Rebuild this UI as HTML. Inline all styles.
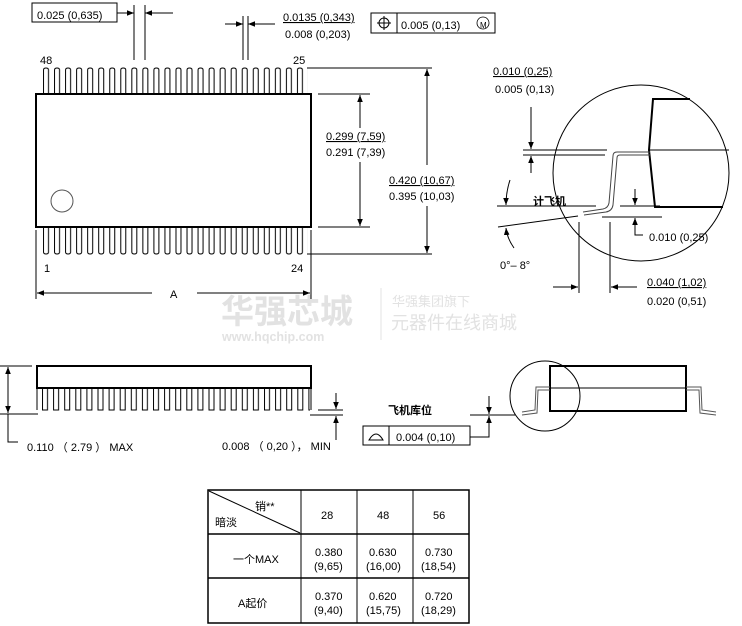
<!DOCTYPE html>
<html><head><meta charset="utf-8"><style>
html,body{margin:0;padding:0;background:#fff}
svg{display:block}
text{font-family:"Liberation Sans","Noto Sans CJK SC",sans-serif;font-size:11px;fill:#000}
</style></head><body>
<svg width="742" height="626" viewBox="0 0 742 626" xmlns="http://www.w3.org/2000/svg">
<defs>
<marker id="a" viewBox="0 0 10 10" refX="10" refY="5" markerWidth="7" markerHeight="7" orient="auto-start-reverse" markerUnits="userSpaceOnUse"><path d="M0,1 L10,5 L0,9 z" fill="#000"/></marker>
<pattern id="pt" patternUnits="userSpaceOnUse" x="43" y="0" width="11.04" height="626">
<path d="M0.5,94 V70 Q0.5,68 3,68 Q5.5,68 5.5,70 V94" fill="none" stroke="#000" stroke-width="1"/>
</pattern>
<pattern id="pb" patternUnits="userSpaceOnUse" x="43" y="0" width="11.04" height="626">
<path d="M0.5,227 V252 Q0.5,254 3,254 Q5.5,254 5.5,252 V227" fill="none" stroke="#000" stroke-width="1"/>
</pattern>
<pattern id="ps" patternUnits="userSpaceOnUse" x="42" y="0" width="11.1" height="626">
<path d="M0.5,388 V410 H5.5 V388" fill="none" stroke="#000" stroke-width="1"/>
</pattern>
</defs>
<g stroke="#000" fill="none" stroke-width="1">
<line x1="381" y1="288" x2="381" y2="340" stroke="#e3e3e3"/>
</g>
<text x="221" y="323" style="font-size:33px;font-weight:bold;fill:#e2e2e2">华强芯城</text>
<text x="222" y="341" style="font-size:12.5px;font-weight:bold;fill:#e2e2e2">www.hqchip.com</text>
<text x="392" y="306" style="font-size:13px;fill:#e2e2e2">华强集团旗下</text>
<text x="391" y="329" style="font-size:18px;fill:#e2e2e2">元器件在线商城</text>

<!-- top view -->
<rect x="40" y="66" width="268" height="30" fill="url(#pt)"/>
<rect x="40" y="225" width="268" height="32" fill="url(#pb)"/>
<g stroke="#000" fill="none">
<rect x="36" y="94" width="275" height="133" stroke-width="2" fill="#fff"/>
<circle cx="62" cy="201" r="11" stroke="#555"/>
<line x1="134" y1="5" x2="134" y2="60"/><line x1="145" y1="5" x2="145" y2="60"/>
<line x1="117" y1="13" x2="134" y2="13" marker-end="url(#a)"/>
<line x1="173" y1="13" x2="145" y2="13" marker-end="url(#a)"/>
<rect x="32" y="3" width="85" height="19"/>
<line x1="243" y1="16" x2="243" y2="60"/><line x1="248" y1="16" x2="248" y2="60"/>
<line x1="225" y1="24" x2="243" y2="24" marker-end="url(#a)"/>
<line x1="275" y1="24" x2="248" y2="24" marker-end="url(#a)"/>
<rect x="371" y="13" width="124" height="20"/><line x1="397" y1="13" x2="397" y2="33"/>
<circle cx="384" cy="23" r="5"/><line x1="384" y1="16" x2="384" y2="30"/><line x1="377" y1="23" x2="391" y2="23"/>
<circle cx="483" cy="23" r="6" stroke-width="0.8"/>
<line x1="318" y1="94" x2="370" y2="94"/><line x1="318" y1="227" x2="370" y2="227"/>
<line x1="360" y1="128" x2="360" y2="95" marker-end="url(#a)"/>
<line x1="360" y1="162" x2="360" y2="226" marker-end="url(#a)"/>
<line x1="307" y1="68" x2="432" y2="68"/><line x1="307" y1="254" x2="432" y2="254"/>
<line x1="427" y1="165" x2="427" y2="69" marker-end="url(#a)"/>
<line x1="427" y1="206" x2="427" y2="253" marker-end="url(#a)"/>
<line x1="36" y1="230" x2="36" y2="299"/><line x1="311" y1="230" x2="311" y2="299"/>
<line x1="152" y1="293" x2="37" y2="293" marker-end="url(#a)"/>
<line x1="197" y1="293" x2="310" y2="293" marker-end="url(#a)"/>
</g>
<text x="37" y="19" style="font-size:11px">0.025 (0,635)</text>
<text x="283" y="21" text-decoration="underline">0.0135 (0,343)</text>
<text x="285" y="38">0.008 (0,203)</text>
<text x="401" y="29">0.005 (0,13)</text>
<text x="480" y="28" style="font-size:8px">M</text>
<text x="40" y="64">48</text><text x="293" y="64">25</text>
<text x="44" y="272">1</text><text x="291" y="272">24</text>
<text x="326" y="140" text-decoration="underline">0.299 (7,59)</text>
<text x="326" y="156">0.291 (7,39)</text>
<text x="389" y="184" text-decoration="underline">0.420 (10,67)</text>
<text x="389" y="200">0.395 (10,03)</text>
<text x="170" y="298">A</text>

<!-- detail -->
<g stroke="#000" fill="none">
<circle cx="641" cy="173" r="88"/>
<path d="M690,99 H653 L649,150 L655,207 H723" stroke-width="2"/>
<line x1="649" y1="150" x2="729" y2="150"/>
<path d="M650,152 H617 Q613,152 613,156 L609,203 Q608,208 603,209 L583,212 M650,155 H620 Q617,155 617,158 L613,205 Q612,211 606,212 L584,215" stroke="#444"/>
<line x1="523" y1="150" x2="607" y2="150"/><line x1="523" y1="155" x2="605" y2="155"/>
<line x1="531" y1="107" x2="531" y2="149" marker-end="url(#a)"/>
<line x1="531" y1="173" x2="531" y2="156" marker-end="url(#a)"/>
<line x1="497" y1="206" x2="596" y2="206"/>
<line x1="620" y1="206" x2="660" y2="206"/><line x1="602" y1="217" x2="662" y2="217"/>
<line x1="498" y1="227" x2="578" y2="216"/>
<path d="M510,180 Q506,192 506,205" marker-end="url(#a)"/>
<path d="M514,248 Q507,238 506,228" marker-end="url(#a)"/>
<line x1="635" y1="189" x2="635" y2="205" marker-end="url(#a)"/>
<path d="M643,235 H635 V218" marker-end="url(#a)"/>
<line x1="579" y1="222" x2="579" y2="293"/><line x1="610" y1="222" x2="610" y2="293"/>
<line x1="553" y1="287" x2="578" y2="287" marker-end="url(#a)"/>
<line x1="637" y1="287" x2="611" y2="287" marker-end="url(#a)"/>
</g>
<text x="493" y="75" text-decoration="underline">0.010 (0,25)</text>
<text x="495" y="93">0.005 (0,13)</text>
<text x="533" y="205" style="font-weight:bold;font-size:11px">计飞机</text>
<text x="649" y="241">0.010 (0,25)</text>
<text x="500" y="269">0°– 8°</text>
<text x="647" y="286" text-decoration="underline">0.040 (1,02)</text>
<text x="647" y="305">0.020 (0,51)</text>

<!-- side view -->
<rect x="38" y="386" width="272" height="26" fill="url(#ps)"/>
<g stroke="#000" fill="none">
<path d="M37,388 V366 H311 V388 Z" stroke-width="2" fill="#fff"/>
<line x1="37" y1="388" x2="37" y2="410"/><line x1="311" y1="388" x2="311" y2="410"/>
<line x1="0" y1="366" x2="32" y2="366"/><line x1="0" y1="414" x2="38" y2="414"/>
<line x1="8" y1="390" x2="8" y2="367" marker-end="url(#a)"/>
<line x1="8" y1="390" x2="8" y2="413" marker-end="url(#a)"/>
<path d="M8,414 V442 H18"/>
<line x1="318" y1="410" x2="343" y2="410"/><line x1="310" y1="415" x2="343" y2="415"/>
<line x1="336" y1="393" x2="336" y2="409" marker-end="url(#a)"/>
<line x1="336" y1="440" x2="336" y2="416" marker-end="url(#a)"/>
<rect x="363" y="426" width="107" height="19"/><line x1="389" y1="426" x2="389" y2="445"/>
<path d="M369,440 Q376,428 383,440 Z"/>
<line x1="470" y1="415" x2="515" y2="415"/>
<line x1="489" y1="396" x2="489" y2="414" marker-end="url(#a)"/>
<path d="M470,437 H489 V416" marker-end="url(#a)"/>
<circle cx="545" cy="396" r="35"/>
<rect x="550" y="366" width="136" height="45" stroke-width="2"/>
<line x1="550" y1="388" x2="686" y2="388"/>
<path d="M550,387 H536 L535,410 L522,412 M550,390 H538 L537,413 L522,415" stroke="#555"/>
<path d="M686,387 H701 L702,410 L716,412 M686,390 H699 L700,413 L716,415" stroke="#555"/>
</g>
<text x="27" y="451">0.110 （ 2.79 ） MAX</text>
<text x="222" y="450">0.008 （ 0,20 ）， MIN</text>
<text x="396" y="441">0.004 (0,10)</text>
<text x="388" y="414" style="font-weight:bold">飞机库位</text>

<!-- table -->
<g stroke="#000" fill="none">
<rect x="208" y="490" width="261" height="133" stroke-width="1.5"/>
<line x1="301" y1="490" x2="301" y2="623"/><line x1="357" y1="490" x2="357" y2="623"/><line x1="413" y1="490" x2="413" y2="623"/>
<line x1="208" y1="534" x2="469" y2="534" stroke-width="1.5"/><line x1="208" y1="578" x2="469" y2="578" stroke-width="1.5"/>
<line x1="209" y1="491" x2="300" y2="533"/>
</g>
<text x="255" y="510">销**</text>
<text x="215" y="526">暗淡</text>
<text x="321" y="519">28</text><text x="377" y="519">48</text><text x="433" y="519">56</text>
<text x="233" y="563">一个MAX</text>
<text x="315" y="556">0.380</text><text x="314" y="570">(9,65)</text>
<text x="369" y="556">0.630</text><text x="366" y="570">(16,00)</text>
<text x="425" y="556">0.730</text><text x="421" y="570">(18,54)</text>
<text x="238" y="607">A起价</text>
<text x="315" y="600">0.370</text><text x="314" y="614">(9,40)</text>
<text x="369" y="600">0.620</text><text x="366" y="614">(15,75)</text>
<text x="425" y="600">0.720</text><text x="421" y="614">(18,29)</text>
</svg>
</body></html>
